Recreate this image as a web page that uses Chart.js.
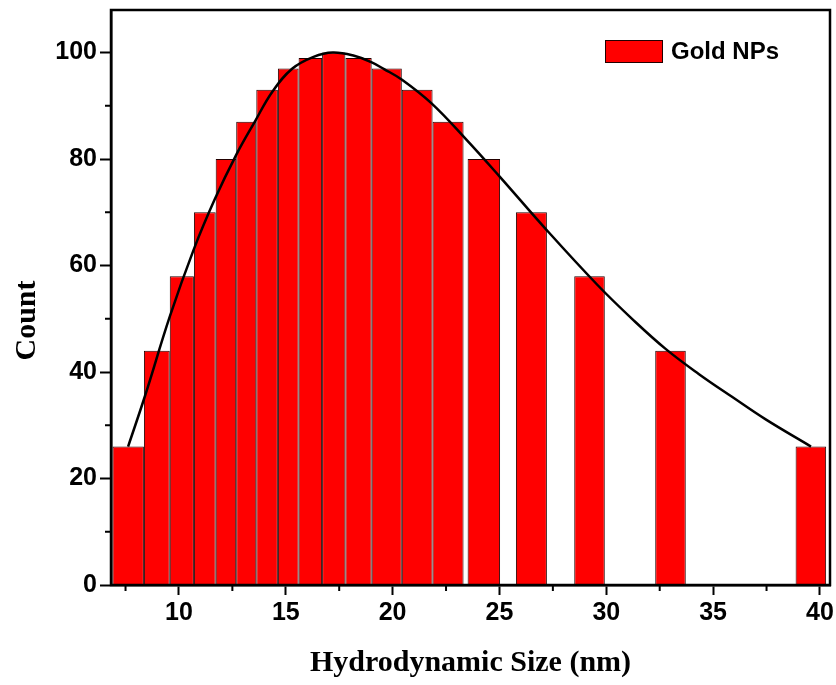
<!DOCTYPE html>
<html>
<head>
<meta charset="utf-8">
<title>Hydrodynamic Size Distribution</title>
<script src="https://cdn.jsdelivr.net/npm/chart.js@4.4.1/dist/chart.umd.min.js"></script>
<style>
  html, body { margin: 0; padding: 0; background: #fff; }
  #wrap { width: 836px; height: 685px; }
</style>
</head>
<body>
<div id="wrap"><canvas id="dls-chart" width="836" height="685"></canvas></div>
<script>
// Size bins (nm): left/right edges and counts
const binStart = [6.89, 8.36, 9.57, 10.70, 11.72, 12.68, 13.62, 14.63, 15.60, 16.70, 17.79, 19.02, 20.43, 21.87, 23.51, 25.77, 28.50, 32.29, 38.86];
const binEnd   = [8.36, 9.57, 10.70, 11.72, 12.68, 13.62, 14.63, 15.60, 16.70, 17.79, 19.02, 20.43, 21.87, 23.32, 25.03, 27.22, 29.93, 33.72, 40.29];
const counts   = [26, 44, 58, 70, 80, 87, 93, 97, 99, 100, 99, 97, 93, 87, 80, 70, 58, 44, 26];

// Fitted distribution curve
const fitX = [7.62, 8.41, 9.57, 10.69, 11.67, 12.68, 13.56, 14.38, 15.31, 16.3, 17.2, 18.2, 19.0, 19.6, 20.44, 21.81, 23.44, 24.99, 27.18, 29.6, 31.23, 32.79, 34.34, 35.9, 37.46, 39.58];
const fitY = [26, 35.5, 50.4, 63.0, 72.4, 80.8, 87.1, 92.7, 97.0, 99.2, 100, 99.4, 98.2, 96.9, 94.9, 90.5, 83.7, 76.8, 66.8, 56.3, 49.9, 44.3, 39.6, 35.3, 31.1, 26.0];

// Axis ticks
const xTicks = [10, 15, 20, 25, 30, 35, 40];
const xMinor = [7.5, 12.5, 17.5, 22.5, 27.5, 32.5, 37.5];
const yTicks = [0, 20, 40, 60, 80, 100];
const yMinor = [10, 30, 50, 70, 90];

const sansBold = { family: "'Liberation Sans', Arial, sans-serif", size: 25, weight: 'bold' };
const serifBold = { family: "'Liberation Serif', 'Times New Roman', serif", size: 30, weight: 'bold' };

// stretch each bar across its own bin edges
const binEdges = {
  id: 'binEdges',
  afterDatasetsUpdate(chart) {
    const xs = chart.scales.x;
    chart.getDatasetMeta(0).data.forEach((bar, i) => {
      const l = xs.getPixelForValue(binStart[i]);
      const r = xs.getPixelForValue(binEnd[i]);
      bar.x = (l + r) / 2;
      bar.width = r - l;
    });
  }
};

// box frame, minor tick marks, y title and the legend key
const frame = {
  id: 'frame',
  afterDraw(chart) {
    const { ctx, chartArea: a, scales } = chart;
    ctx.save();
    ctx.strokeStyle = '#000';
    ctx.lineWidth = 2.5;
    ctx.strokeRect(a.left, a.top, a.right - a.left, a.bottom - a.top);
    ctx.lineWidth = 2;
    ctx.beginPath();
    xMinor.forEach(v => {
      const px = scales.x.getPixelForValue(v);
      ctx.moveTo(px, a.bottom);
      ctx.lineTo(px, a.bottom + 6);
    });
    yMinor.forEach(v => {
      const py = scales.y.getPixelForValue(v);
      ctx.moveTo(a.left, py);
      ctx.lineTo(a.left - 6, py);
    });
    ctx.stroke();

    // y axis title, sitting a little below the axis middle
    ctx.save();
    ctx.translate(27, (a.top + a.bottom) / 2 + 23);
    ctx.rotate(-Math.PI / 2);
    ctx.font = "bold 30px 'Liberation Serif', 'Times New Roman', serif";
    ctx.fillStyle = '#000';
    ctx.textAlign = 'center';
    ctx.textBaseline = 'middle';
    ctx.fillText('Count', 0, 0);
    ctx.restore();

    // legend key in the top-right corner
    const ds = chart.data.datasets[0];
    const bx = a.right - 225, by = a.top + 30;
    ctx.fillStyle = ds.backgroundColor;
    ctx.fillRect(bx, by, 58, 23);
    ctx.strokeStyle = ds.borderColor;
    ctx.lineWidth = 1;
    ctx.strokeRect(bx + 0.5, by + 0.5, 57, 22);
    ctx.fillStyle = '#000';
    ctx.font = "bold 24px 'Liberation Sans', Arial, sans-serif";
    ctx.textBaseline = 'middle';
    ctx.fillText(ds.label, bx + 66, by + 12);
    ctx.restore();
  }
};

const ctx = document.getElementById('dls-chart').getContext('2d');
new Chart(ctx, {
  type: 'bar',
  data: {
    datasets: [{
      label: 'Gold NPs',
      data: counts.map((c, i) => ({ x: (binStart[i] + binEnd[i]) / 2, y: c })),
      backgroundColor: '#ff0000',
      borderColor: '#220000',
      borderWidth: 1,
      grouped: false,
      order: 1
    }, {
      type: 'line',
      label: 'Fit',
      data: fitX.map((x, i) => ({ x: x, y: fitY[i] })),
      borderColor: '#000',
      borderWidth: 2.5,
      pointRadius: 0,
      tension: 0.4,
      fill: false,
      order: 0
    }]
  },
  options: {
    responsive: false,
    animation: false,
    layout: { padding: { top: 10, right: 6, left: 0, bottom: 0 } },
    plugins: {
      tooltip: { enabled: false },
      legend: { display: false }
    },
    scales: {
      x: {
        type: 'linear',
        offset: false,
        min: 6.82,
        max: 40.47,
        afterBuildTicks: s => { s.ticks = xTicks.map(v => ({ value: v })); },
        afterFit: s => { s.height = 100; s.paddingLeft = 0; s.paddingRight = 0; },
        ticks: { color: '#000', font: sansBold, padding: 3 },
        grid: { offset: false, drawOnChartArea: false, tickLength: 10, tickWidth: 2, tickColor: '#000' },
        border: { color: '#000', width: 2.5 },
        title: { display: true, text: 'Hydrodynamic Size (nm)', color: '#000', font: serifBold, padding: { top: 0, bottom: 4 } }
      },
      y: {
        min: 0,
        max: 108,
        afterBuildTicks: s => { s.ticks = yTicks.map(v => ({ value: v })); },
        afterFit: s => { s.width = 111; s.paddingTop = 0; s.paddingBottom = 0; },
        ticks: { color: '#000', font: sansBold, padding: 3 },
        grid: { drawOnChartArea: false, tickLength: 11, tickWidth: 2, tickColor: '#000' },
        border: { color: '#000', width: 2.5 }
      }
    }
  },
  plugins: [binEdges, frame]
});
</script>
</body>
</html>
